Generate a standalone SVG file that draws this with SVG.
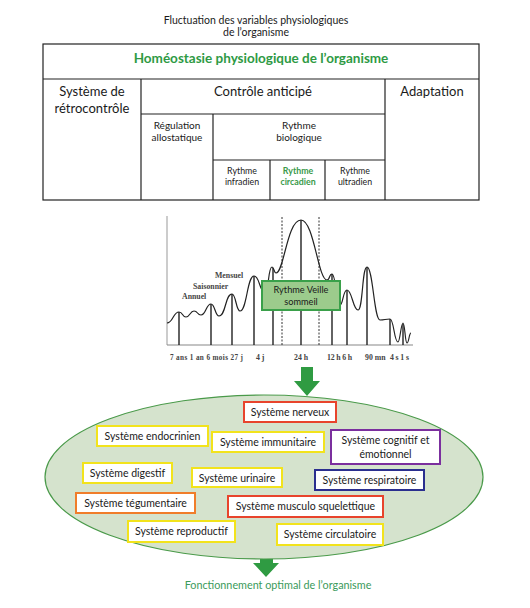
<svg xmlns="http://www.w3.org/2000/svg" width="530" height="608" viewBox="0 0 530 608">
<style>
.t{font-family:Lato,"Liberation Sans",sans-serif;fill:#1a1a1a;text-anchor:middle}
.cell{fill:none;stroke:#222;stroke-width:1.2}
.ser{font-family:"Liberation Serif",serif;font-weight:bold;fill:#444;font-size:7.8px}
.bx{fill:#fff;stroke-width:2}
.sys{font-family:Lato,"Liberation Sans",sans-serif;font-size:10.5px;fill:#1a1a1a;text-anchor:middle}
.arrow{fill:#2f9b42}
</style>
<rect width="530" height="608" fill="#fff"/>

<g id="title">
<text class="t" x="256" y="24" font-size="10.5">Fluctuation des variables physiologiques</text>
<text class="t" x="256" y="36" font-size="10.5">de l’organisme</text>
</g>

<g id="table">
<rect class="cell" x="43" y="44" width="436" height="156"/>
<line class="cell" x1="43" y1="79" x2="479" y2="79"/>
<line class="cell" x1="141" y1="79" x2="141" y2="200"/>
<line class="cell" x1="385" y1="79" x2="385" y2="200"/>
<line class="cell" x1="141" y1="114" x2="385" y2="114"/>
<line class="cell" x1="213" y1="114" x2="213" y2="200"/>
<line class="cell" x1="213" y1="160" x2="385" y2="160"/>
<line class="cell" x1="270" y1="160" x2="270" y2="200"/>
<line class="cell" x1="325" y1="160" x2="325" y2="200"/>
<text class="t" x="261" y="63" font-size="13.5" font-weight="bold" style="fill:#2e9a44">Homéostasie physiologique de l’organisme</text>
<text class="t" x="92" y="96" font-size="13">Système de</text>
<text class="t" x="92" y="113" font-size="13">rétrocontrôle</text>
<text class="t" x="263" y="96" font-size="13">Contrôle anticipé</text>
<text class="t" x="432" y="96" font-size="13">Adaptation</text>
<text class="t" x="177" y="129" font-size="10">Régulation</text>
<text class="t" x="177" y="141" font-size="10">allostatique</text>
<text class="t" x="299" y="129" font-size="10">Rythme</text>
<text class="t" x="299" y="141" font-size="10">biologique</text>
<text class="t" x="242" y="174" font-size="8.8">Rythme</text>
<text class="t" x="242" y="185" font-size="8.8">infradien</text>
<text class="t" x="298" y="174" font-size="8.8" font-weight="bold" style="fill:#3a9a4a">Rythme</text>
<text class="t" x="298" y="185" font-size="8.8" font-weight="bold" style="fill:#3a9a4a">circadien</text>
<text class="t" x="355" y="174" font-size="8.8">Rythme</text>
<text class="t" x="355" y="185" font-size="8.8">ultradien</text>
</g>

<g id="chart">
<line x1="167" y1="216" x2="167" y2="345" stroke="#999" stroke-width="1"/>
<line x1="167" y1="345" x2="413" y2="345" stroke="#888" stroke-width="1.2"/>
<line x1="282" y1="217" x2="282" y2="345" stroke="#333" stroke-width="1" stroke-dasharray="2,1.5"/>
<line x1="319" y1="217" x2="319" y2="345" stroke="#333" stroke-width="1" stroke-dasharray="2,1.5"/>
<g stroke="#222" stroke-width="1.4">
<line x1="179" y1="345" x2="179" y2="312"/>
<line x1="211" y1="345" x2="211" y2="304"/>
<line x1="232" y1="345" x2="232" y2="294"/>
<line x1="254" y1="345" x2="254" y2="276"/>
<line x1="273" y1="345" x2="273" y2="268"/>
<line x1="301" y1="345" x2="301" y2="220"/>
<line x1="332" y1="345" x2="332" y2="274"/>
<line x1="347" y1="345" x2="347" y2="290"/>
<line x1="367" y1="345" x2="367" y2="267"/>
<line x1="390" y1="345" x2="390" y2="319"/>
<line x1="403" y1="345" x2="403" y2="324"/>
</g>
<path fill="none" stroke="#222" stroke-width="1.2" d="M167,323 C173,323 173,312 179,312 C183,312 182,317 186,317 C190,317 190,311 194,311 C198,311 197,315 201,315 C206,315 206,304 211,304 C215,304 215,316 219,316 C226,316 225,294 232,294 C236,294 236,311 240,311 C247,311 247,276 254,276 C260,276 259,292 265,292 C269,292 268,267 272,267 C274,267 274,273 276,273 C284,273 287,220 301,220 C314,220 318,280 327,280 C330,280 329,274 332,274 C336,274 336,305 340,305 C343,305 343,290 347,290 C352,290 353,310 358,310 C363,310 362,267 367,267 C373,267 374,320 380,320 C385,320 385,319 390,319 C394,319 394,342 398,342 C400,342 401,323 403,323 C405,323 405,343 407,343 C409,343 409,333 411,333"/>
<text class="ser" x="215" y="278">Mensuel</text>
<text class="ser" x="193" y="289">Saisonnier</text>
<text class="ser" x="182" y="299">Annuel</text>
<text class="ser" x="170" y="360" textLength="73" lengthAdjust="spacing" style="font-size:7.2px">7 ans 1 an 6 mois 27 j</text>
<text class="ser" x="256" y="360">4 j</text>
<text class="ser" x="294" y="360">24 h</text>
<text class="ser" x="327" y="360" textLength="25" lengthAdjust="spacing">12 h 6 h</text>
<text class="ser" x="365" y="360">90 mn</text>
<text class="ser" x="390" y="360" textLength="19" lengthAdjust="spacing">4 s 1 s</text>
</g>

<g id="veille-sommeil">
<rect x="262" y="281" width="78" height="29" fill="#9ccb8c" stroke="#3aa04a" stroke-width="2"/>
<text class="t" x="301" y="293" font-size="9.2">Rythme Veille</text>
<text class="t" x="301" y="305" font-size="9.2">sommeil</text>
</g>

<g id="connectors">
<path class="arrow" d="M301,367 H313 V381 H320 L307,396 L294,381 H301 Z"/>
<path class="arrow" d="M260,546 H273 V563 H279 L266,577 L253,563 H260 Z"/>
</g>

<g id="organisme">
<ellipse cx="264" cy="477" rx="219" ry="82" fill="#d5e3cd" stroke="#4a9a4a" stroke-width="1.2"/>
</g>

<g id="nerveux"><rect class="bx" x="244" y="402" width="92" height="20" stroke="#e8442c"/><text class="sys" x="290" y="416">Système nerveux</text></g>
<g id="endocrinien"><rect class="bx" x="97" y="426" width="111" height="20" stroke="#f2e31c"/><text class="sys" x="152.5" y="440">Système endocrinien</text></g>
<g id="immunitaire"><rect class="bx" x="212" y="432" width="112" height="20" stroke="#f2e31c"/><text class="sys" x="268" y="446">Système immunitaire</text></g>
<g id="cognitif"><rect class="bx" x="331" y="430" width="109" height="34" stroke="#7b2f9e"/><text class="sys" x="385.5" y="444">Système cognitif et</text><text class="sys" x="385.5" y="458">émotionnel</text></g>
<g id="digestif"><rect class="bx" x="83" y="463" width="89" height="20" stroke="#f2e31c"/><text class="sys" x="127.5" y="477">Système digestif</text></g>
<g id="urinaire"><rect class="bx" x="192" y="468" width="90" height="19" stroke="#f2e31c"/><text class="sys" x="237" y="481.5">Système urinaire</text></g>
<g id="respiratoire"><rect class="bx" x="315" y="470" width="109" height="20" stroke="#2b2f8f"/><text class="sys" x="369.5" y="484">Système respiratoire</text></g>
<g id="tegumentaire"><rect class="bx" x="76" y="493" width="119" height="20" stroke="#f07d2a"/><text class="sys" x="135.5" y="507">Système tégumentaire</text></g>
<g id="musculo"><rect class="bx" x="228" y="496" width="155" height="21" stroke="#e8442c"/><text class="sys" x="305.5" y="510">Système musculo squelettique</text></g>
<g id="reproductif"><rect class="bx" x="128" y="521" width="107" height="21" stroke="#f2e31c"/><text class="sys" x="181.5" y="535">Système reproductif</text></g>
<g id="circulatoire"><rect class="bx" x="277" y="524" width="106" height="21" stroke="#f2e31c"/><text class="sys" x="330" y="538">Système circulatoire</text></g>

<g id="resultat">
<text class="t" x="278" y="589" font-size="10.8" style="fill:#3a9a5a">Fonctionnement optimal de l’organisme</text>
</g>
</svg>
